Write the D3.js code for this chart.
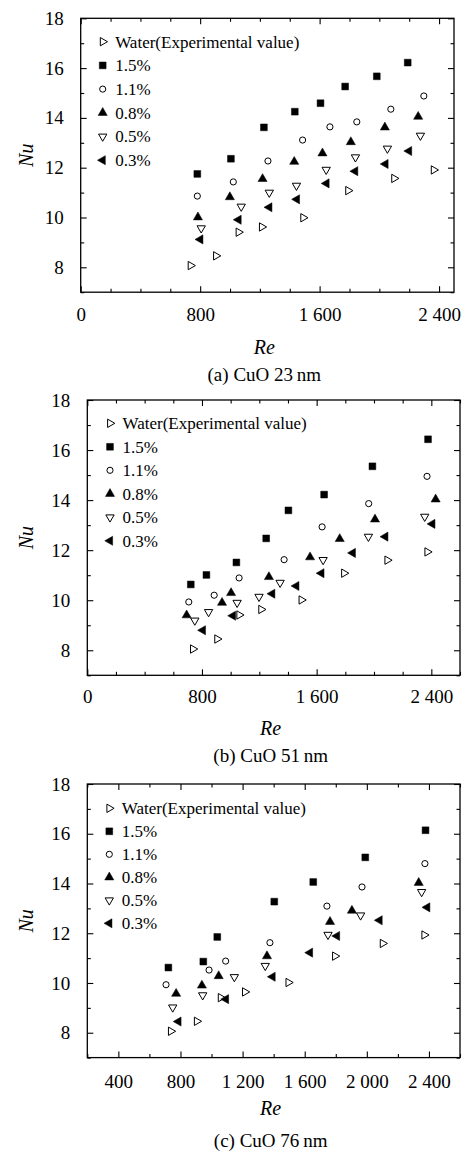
<!DOCTYPE html>
<html>
<head>
<meta charset="utf-8">
<script src="https://cdn.jsdelivr.net/npm/d3@7"></script>
<style>
  body { margin: 0; background: #fff; }
  svg { display: block; }
  svg text { font-family: "Liberation Serif", "Times New Roman", serif; }
</style>
</head>
<body>
<svg id="vis" width="462" height="1152"></svg>
<script>
// legend labels, one per series
const seriesLabels = ["Water(Experimental value)", "1.5%", "1.1%", "0.8%", "0.5%", "0.3%"]
const captions = ["(a) CuO 23\u2009nm", "(b) CuO 51\u2009nm", "(c) CuO 76\u2009nm"]

// (a) CuO 23 nm  -- [Re, Nu]
const a_water = [[736, 8.07], [906, 8.46], [1057, 9.41], [1213, 9.62], [1490, 9.99], [1791, 11.08], [2099, 11.57], [2364, 11.91]]
const a_15 = [[781, 11.75], [1006, 12.36], [1227, 13.62], [1434, 14.25], [1606, 14.59], [1771, 15.26], [1983, 15.67], [2190, 16.22]]
const a_11 = [[781, 10.86], [1022, 11.43], [1254, 12.27], [1486, 13.11], [1669, 13.64], [1849, 13.84], [2077, 14.35], [2298, 14.88]]
const a_08 = [[785, 10.01], [999, 10.82], [1218, 11.55], [1430, 12.24], [1619, 12.58], [1809, 13.03], [2037, 13.62], [2260, 14.05]]
const a_05 = [[807, 9.57], [1075, 10.44], [1263, 11.0], [1445, 11.28], [1644, 11.92], [1840, 12.42], [2054, 12.77], [2275, 13.29]]
const a_03 = [[801, 9.12], [1057, 9.91], [1263, 10.41], [1448, 10.73], [1646, 11.37], [1838, 11.86], [2041, 12.15], [2199, 12.67]]

// (b) CuO 51 nm
const b_water = [[737, 8.05], [906, 8.45], [1060, 9.41], [1213, 9.63], [1494, 10.01], [1791, 11.08], [2093, 11.6], [2372, 11.93]]
const b_15 = [[722, 10.63], [831, 11.01], [1040, 11.51], [1248, 12.47], [1403, 13.59], [1652, 14.22], [1989, 15.35], [2377, 16.43]]
const b_11 = [[708, 9.93], [885, 10.2], [1059, 10.89], [1373, 11.62], [1638, 12.93], [1963, 13.86], [2370, 14.95]]
const b_08 = [[693, 9.4], [940, 9.9], [1003, 10.29], [1267, 10.93], [1554, 11.72], [1761, 12.45], [2007, 13.23], [2430, 14.03]]
const b_05 = [[750, 9.19], [846, 9.53], [1045, 9.9], [1198, 10.14], [1345, 10.7], [1645, 11.61], [1961, 12.54], [2354, 13.34]]
const b_03 = [[806, 8.8], [1016, 9.38], [1290, 10.26], [1458, 10.57], [1633, 11.08], [1852, 11.89], [2079, 12.54], [2407, 13.05]]

// (c) CuO 76 nm
const c_water = [[738, 8.06], [905, 8.46], [1059, 9.41], [1215, 9.64], [1495, 10.02], [1795, 11.08], [2102, 11.59], [2370, 11.93]]
const c_15 = [[722, 10.62], [947, 10.86], [1037, 11.85], [1404, 13.27], [1655, 14.06], [1990, 15.05], [2378, 16.14]]
const c_11 = [[707, 9.93], [984, 10.52], [1091, 10.88], [1376, 11.62], [1743, 13.09], [1969, 13.86], [2374, 14.8]]
const c_08 = [[772, 9.57], [938, 9.9], [1046, 10.28], [1357, 11.08], [1763, 12.46], [1904, 12.91], [2334, 14.03]]
const c_05 = [[750, 9.02], [943, 9.51], [1147, 10.24], [1346, 10.69], [1750, 11.94], [1960, 12.72], [2353, 13.66]]
const c_03 = [[787, 8.45], [1093, 9.35], [1393, 10.25], [1634, 11.22], [1808, 11.89], [2082, 12.52], [2389, 13.04]]

// axis ticks
const yMajor = [8, 10, 12, 14, 16, 18]
const yMinor = [7, 9, 11, 13, 15, 17]
const xMajorAB = [0, 800, 1600, 2400]
const xMajorC = [400, 800, 1200, 1600, 2000, 2400]

const SERIF = "Liberation Serif"
const vis = d3.select("#vis")

// marker styles: symbol, rotation, filled?
const markers = [
  { type: d3.symbolTriangle, rot: 90, size: 30, fill: false },
  { type: d3.symbolSquare, rot: 0, size: 46, fill: true },
  { type: d3.symbolCircle, rot: 0, size: 30, fill: false },
  { type: d3.symbolTriangle, rot: 0, size: 36, fill: true },
  { type: d3.symbolTriangle, rot: 180, size: 30, fill: false },
  { type: d3.symbolTriangle, rot: -90, size: 36, fill: true }
]

const panels = [
  { series: [a_water, a_15, a_11, a_08, a_05, a_03], left: 80.7, right: 454, top: 18.3, bottom: 292.2,
    xDomain: [0, 2500], xMajor: xMajorAB, tickOff: 15, reY: 346.7, capY: 374, legX: 102.7, legY: 41.7, legStep: 23.7 },
  { series: [b_water, b_15, b_11, b_08, b_05, b_03], left: 87.3, right: 460, top: 400, bottom: 675.3,
    xDomain: [0, 2600], xMajor: xMajorAB, tickOff: 14, reY: 728.3, capY: 755, legX: 110, legY: 423.3, legStep: 23.5 },
  { series: [c_water, c_15, c_11, c_08, c_05, c_03], left: 87.3, right: 460, top: 784, bottom: 1057.6,
    xDomain: [200, 2600], xMajor: xMajorC, tickOff: 16.5, reY: 1108, capY: 1140, legX: 109.3, legY: 808.3, legStep: 23 }
]

const fmt = d => d >= 1000 ? `${Math.floor(d / 1000)} ${String(d % 1000).padStart(3, "0")}` : `${d}`

function drawMarker(sel, m) {
  sel.attr("d", d3.symbol().type(m.type).size(m.size))
    .attr("fill", m.fill ? "#000" : "#fff")
    .attr("stroke", "#000")
    .attr("stroke-width", m.fill ? 0.5 : 1)
}

panels.forEach((p, i) => {
  const x = d3.scaleLinear().domain(p.xDomain).range([p.left, p.right])
  const y = d3.scaleLinear().domain([7, 18]).range([p.bottom, p.top])
  const xMinor = d3.range(p.xDomain[0], p.xDomain[1] + 1, 200).filter(v => !p.xMajor.includes(v))
  const g = vis.append("g").attr("font-family", SERIF)

  const axes = [
    [d3.axisBottom(x).tickValues(p.xMajor).tickSize(-6).tickPadding(p.tickOff).tickFormat(fmt), `translate(0,${p.bottom})`],
    [d3.axisBottom(x).tickValues(xMinor).tickSize(-3.5).tickFormat(""), `translate(0,${p.bottom})`],
    [d3.axisTop(x).tickValues(p.xMajor).tickSize(-6).tickFormat(""), `translate(0,${p.top})`],
    [d3.axisTop(x).tickValues(xMinor).tickSize(-3.5).tickFormat(""), `translate(0,${p.top})`],
    [d3.axisLeft(y).tickValues(yMajor).tickSize(-6).tickPadding(17).tickFormat(d3.format("d")), `translate(${p.left},0)`],
    [d3.axisLeft(y).tickValues(yMinor).tickSize(-3.5).tickFormat(""), `translate(${p.left},0)`],
    [d3.axisRight(y).tickValues(yMajor).tickSize(-6).tickFormat(""), `translate(${p.right},0)`],
    [d3.axisRight(y).tickValues(yMinor).tickSize(-3.5).tickFormat(""), `translate(${p.right},0)`]
  ]
  axes.forEach(([ax, tr]) => {
    const a = g.append("g").attr("transform", tr).call(ax).attr("font-family", SERIF).attr("font-size", 19)
    a.select(".domain").remove()
    a.selectAll("line").attr("stroke", "#000").attr("stroke-width", 1.1)
    a.selectAll("text").style("font-family", SERIF).attr("fill", "#000")
  })

  // frame
  g.append("rect")
    .attr("x", p.left).attr("y", p.top)
    .attr("width", p.right - p.left).attr("height", p.bottom - p.top)
    .attr("fill", "none").attr("stroke", "#000").attr("stroke-width", 1.3)

  // points
  p.series.forEach((s, k) => {
    g.append("g").selectAll("path")
      .data(s)
      .enter()
      .append("path")
      .attr("transform", d => `translate(${x(d[0])},${y(d[1])}) rotate(${markers[k].rot})`)
      .call(drawMarker, markers[k])
  })

  // legend
  const leg = g.append("g")
  seriesLabels.forEach((lab, k) => {
    const ly = p.legY + k * p.legStep
    leg.append("path")
      .attr("transform", `translate(${p.legX},${ly}) rotate(${markers[k].rot})`)
      .call(drawMarker, markers[k])
    leg.append("text")
      .attr("x", p.legX + 12.5).attr("y", ly).attr("dy", "0.35em")
      .style("font-family", SERIF).attr("font-size", 17).text(lab)
  })

  // axis titles
  g.append("text")
    .attr("transform", `translate(26,${(p.top + p.bottom) / 2}) rotate(-90)`)
    .attr("text-anchor", "middle").attr("dy", "0.35em").style("font-family", SERIF)
    .attr("font-size", 20).attr("font-style", "italic").text("Nu")
  g.append("text")
    .attr("x", (p.left + p.right) / 2 - 3).attr("y", p.reY).attr("dy", "0.35em").style("font-family", SERIF)
    .attr("text-anchor", "middle").attr("font-size", 20).attr("font-style", "italic").text("Re")
  g.append("text")
    .attr("x", (p.left + p.right) / 2 - 3).attr("y", p.capY).attr("dy", "0.35em").style("font-family", SERIF)
    .attr("text-anchor", "middle").attr("font-size", 19).text(captions[i])
})
</script>
</body>
</html>
